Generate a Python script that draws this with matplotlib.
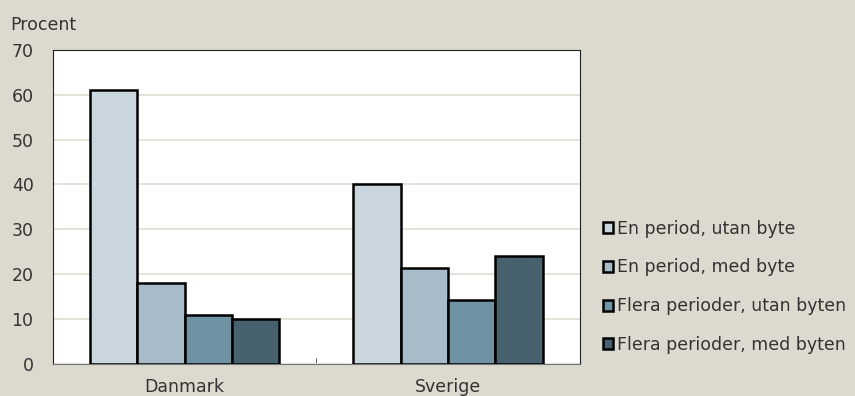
import numpy as np
import matplotlib.pyplot as plt
from matplotlib.patches import Patch

# data
countries = ['Danmark', 'Sverige']
series = ['En period, utan byte', 'En period, med byte',
          'Flera perioder, utan byten', 'Flera perioder, med byten']
en_utan = [61, 40]
en_med = [18, 21.3]
flera_utan = [11, 14.2]
flera_med = [10, 24]
colors = ['#c9d6dd', '#a7bcc8', '#6f93a3', '#48616e']

plt.rcParams['font.family'] = ['DejaVu Sans']
bg = '#dcd9cf'
fs = 12.5

fig = plt.figure(figsize=(8.55, 3.96), dpi=100, facecolor=bg)
ax = fig.add_axes([0.062, 0.081, 0.616, 0.793])
ax.set_facecolor('white')

x = np.arange(len(countries))
w = 0.18
vals = [en_utan, en_med, flera_utan, flera_med]
for i, v in enumerate(vals):
    ax.bar(x + (i - 1.5) * w, v, w, color=colors[i], edgecolor='black', linewidth=1.8, zorder=3)

ax.set_xlim(-0.5, 1.5)
ax.set_ylim(0, 70)
ax.set_yticks(range(0, 71, 10))
ax.yaxis.grid(True, color='#e2ddd3', linewidth=1.2, zorder=0)
ax.set_xticks(x)
ax.set_xticklabels(countries)
ax.tick_params(axis='both', length=0, labelsize=fs, colors='#333333')
ax.tick_params(axis='y', pad=14)
ax.tick_params(axis='x', pad=10)
ax.set_xticks([0.5], minor=True)
ax.tick_params(axis='x', which='minor', direction='in', length=4, color='#444444')
for s in ['left', 'top', 'right']:
    ax.spines[s].set_color('#222222')
ax.spines['bottom'].set_color('#777777')

fig.text(0.012, 0.925, 'Procent', fontsize=fs, color='#333333')

handles = [Patch(facecolor=c, edgecolor='black', linewidth=1.8) for c in colors]
fig.legend(handles, series, loc='upper left', bbox_to_anchor=(0.687, 0.485),
           frameon=False, fontsize=fs, handlelength=0.6, handleheight=0.6,
           handletextpad=0.2, labelspacing=1.2, labelcolor='#333333')

plt.savefig('out.png', facecolor=bg)
